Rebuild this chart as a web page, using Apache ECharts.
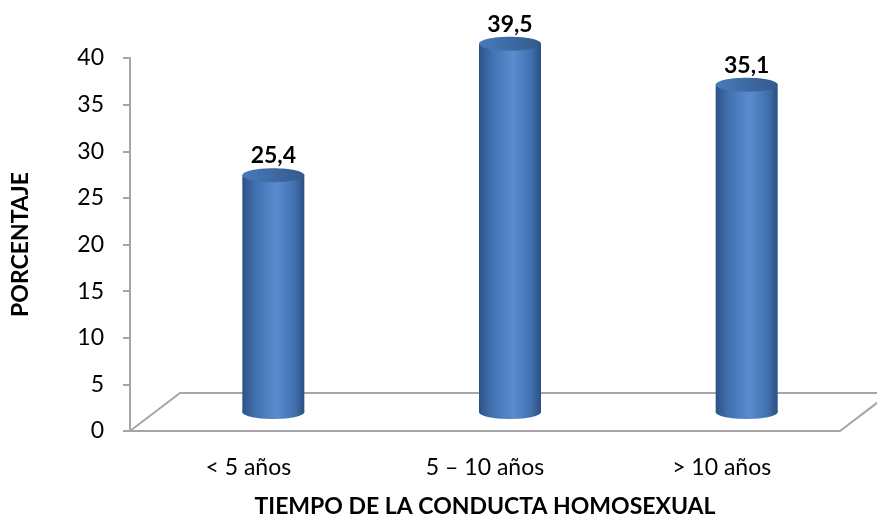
<!DOCTYPE html>
<html>
<head>
<meta charset="utf-8">
<script src="https://cdn.jsdelivr.net/npm/echarts@6/dist/echarts.min.js"></script>
<style>
  html, body { margin: 0; padding: 0; background: #fff; }
  #chart { width: 877px; height: 516px; }
</style>
</head>
<body>
<div id="chart"></div>
<script>
// datos del gráfico
const categories = ['< 5 años', '5 – 10 años', '> 10 años'];
const porcentajes = [25.4, 39.5, 35.1];
const yTicks = [0, 5, 10, 15, 20, 25, 30, 35, 40];

// profundidad del piso 3D (px)
const DEPTH_X = 50;
const DEPTH_Y = 38;
const BAR_W = 62;
const RY = 7;

const chart = echarts.init(document.getElementById('chart'));

const bodyGradient = new echarts.graphic.LinearGradient(0, 0, 1, 0, [
  { offset: 0, color: '#2c5286' },
  { offset: 0.2, color: '#4070ae' },
  { offset: 0.55, color: '#5a8cd0' },
  { offset: 0.85, color: '#416fad' },
  { offset: 1, color: '#2a4f82' }
]);
const topGradient = new echarts.graphic.LinearGradient(0, 1, 1, 0, [
  { offset: 0, color: '#4a7bbd' },
  { offset: 0.5, color: '#3d6aa3' },
  { offset: 1, color: '#34598b' }
]);

function renderCylinder(params, api) {
  const cat = api.value(0);
  const val = api.value(1);
  const top = api.coord([cat, val]);
  const base = api.coord([cat, 0]);
  const cx = top[0] + DEPTH_X / 2;
  const ty = top[1] - DEPTH_Y / 2;
  const by = base[1] - DEPTH_Y / 2;
  const rx = BAR_W / 2;
  const children = [];

  // piso (solo una vez)
  if (params.dataIndex === 0) {
    const cs = params.coordSys;
    const fy = cs.y + cs.height;
    children.push({
      type: 'polyline',
      shape: { points: [[cs.x, fy], [cs.x + DEPTH_X, fy - DEPTH_Y], [cs.x + cs.width + DEPTH_X, fy - DEPTH_Y], [cs.x + cs.width, fy]] },
      style: { stroke: '#a6a6a6', lineWidth: 2, fill: null },
      silent: true
    });
  }

  children.push({
    type: 'ellipse',
    shape: { cx: cx, cy: by, rx: rx, ry: RY },
    style: { fill: bodyGradient }
  });
  children.push({
    type: 'rect',
    shape: { x: cx - rx, y: ty, width: BAR_W, height: by - ty },
    style: { fill: bodyGradient }
  });
  children.push({
    type: 'ellipse',
    shape: { cx: cx, cy: ty, rx: rx, ry: RY },
    style: { fill: topGradient }
  });
  children.push({
    type: 'text',
    style: {
      x: cx,
      y: ty - RY - 1,
      text: String(val).replace('.', ','),
      align: 'center',
      verticalAlign: 'bottom',
      fontFamily: 'Lato',
      fontWeight: 'bold',
      fontSize: 23,
      fill: '#000'
    }
  });
  return { type: 'group', children: children };
}

chart.setOption({
  backgroundColor: '#fff',
  animation: false,
  grid: { left: 130, right: 37, top: 58, bottom: 85, outerBoundsMode: 'none', containLabel: false },
  xAxis: {
    type: 'category',
    data: categories,
    name: 'TIEMPO DE LA CONDUCTA HOMOSEXUAL',
    nameLocation: 'middle',
    nameGap: 64,
    nameTextStyle: { fontFamily: 'Lato', fontWeight: 'bold', fontSize: 23, color: '#000' },
    axisLine: { lineStyle: { color: '#a6a6a6', width: 2 } },
    axisTick: { show: false },
    axisLabel: { fontFamily: 'Lato', fontSize: 23, color: '#000', margin: 25 }
  },
  yAxis: {
    type: 'value',
    min: yTicks[0],
    max: yTicks[yTicks.length - 1],
    interval: yTicks[1] - yTicks[0],
    name: 'PORCENTAJE',
    nameLocation: 'middle',
    nameRotate: 90,
    nameGap: 98,
    nameTextStyle: { fontFamily: 'Lato', fontWeight: 'bold', fontSize: 23, color: '#000' },
    axisLine: { show: true, lineStyle: { color: '#a6a6a6', width: 2 } },
    axisTick: { show: true, length: 7, lineStyle: { color: '#a6a6a6', width: 2 } },
    axisLabel: { fontFamily: 'Lato', fontSize: 23, color: '#000', margin: 26 },
    splitLine: { show: false }
  },
  series: [{
    type: 'custom',
    renderItem: renderCylinder,
    clip: false,
    data: porcentajes.map((v, i) => [i, v])
  }]
});
</script>
</body>
</html>
